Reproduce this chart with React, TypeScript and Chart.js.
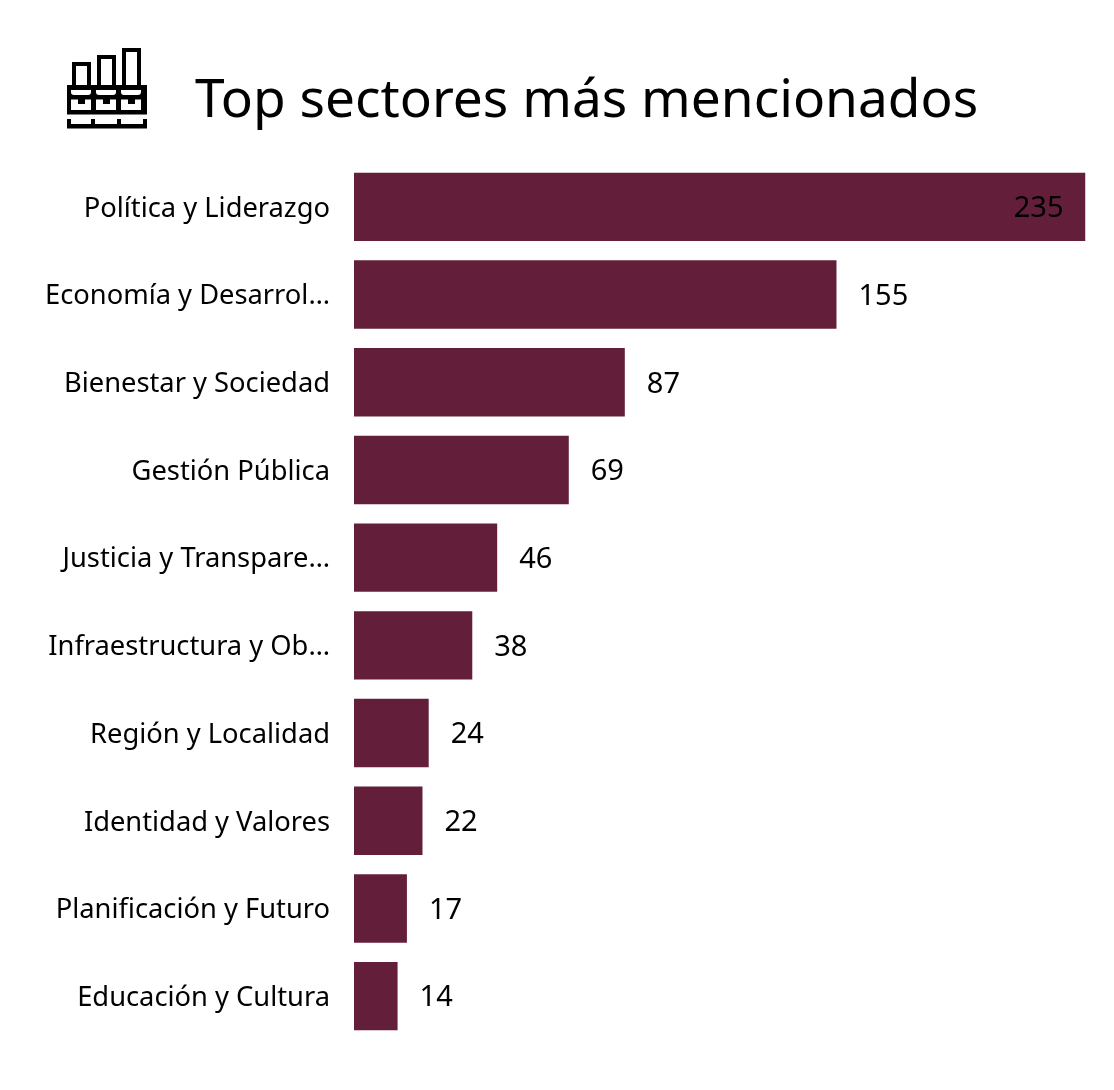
import { useEffect, useRef } from 'react';
import { Chart, registerables } from 'chart.js';

Chart.register(...registerables);

const categories = [
  'Política y Liderazgo',
  'Economía y Desarrol…',
  'Bienestar y Sociedad',
  'Gestión Pública',
  'Justicia y Transpare…',
  'Infraestructura y Ob…',
  'Región y Localidad',
  'Identidad y Valores',
  'Planificación y Futuro',
  'Educación y Cultura',
];
const mentions = [235, 155, 87, 69, 46, 38, 24, 22, 17, 14];

const FONT = '"Noto Sans", sans-serif';

// value labels: outside the bar, except when it would not fit
const valueLabels = {
  id: 'valueLabels',
  afterDatasetsDraw(chart: Chart) {
    const { ctx, chartArea } = chart;
    const bars = chart.getDatasetMeta(0).data;
    ctx.save();
    ctx.font = `29px ${FONT}`;
    ctx.fillStyle = '#000000';
    ctx.textBaseline = 'middle';
    bars.forEach((bar, i) => {
      const inside = bar.x + 100 > chartArea.right + 28;
      ctx.textAlign = inside ? 'right' : 'left';
      ctx.fillText(String(mentions[i]), inside ? bar.x - 22 : bar.x + 22, bar.y + 2);
    });
    ctx.restore();
  },
};

export default function App() {
  const chartRef = useRef<HTMLCanvasElement>(null);

  useEffect(() => {
    if (!chartRef.current) return;
    document.body.style.margin = '0';

    const chart = new Chart(chartRef.current, {
      type: 'bar',
      data: {
        labels: categories,
        datasets: [
          {
            data: mentions,
            backgroundColor: '#631f3a',
            barPercentage: 0.78,
            categoryPercentage: 1,
          },
        ],
      },
      options: {
        indexAxis: 'y',
        responsive: false,
        animation: false,
        layout: { padding: { top: 163, bottom: 50, right: 28.5 } },
        plugins: {
          legend: { display: false },
          tooltip: { enabled: false },
        },
        scales: {
          x: { display: false, min: 0, max: 235 },
          y: {
            afterFit(scale) {
              scale.width = 354;
            },
            grid: { display: false },
            border: { display: false },
            ticks: {
              color: '#000000',
              padding: 16,
              labelOffset: 2,
              font: { family: FONT, size: 27.3 },
              autoSkip: false,
            },
          },
        },
      },
      plugins: [valueLabels],
    });

    return () => {
      chart.destroy();
    };
  }, []);

  return (
    <div style={{ position: 'relative', width: 1114, height: 1090, background: '#fff' }}>
      <svg
        width="84"
        height="84"
        viewBox="65 47 84 84"
        style={{ position: 'absolute', left: 65, top: 47 }}
      >
        <g fill="none" stroke="#000" strokeWidth="4">
          <rect x="74" y="64" width="15" height="23" />
          <rect x="99" y="57" width="15" height="30" />
          <rect x="124" y="50" width="15" height="37" />
        </g>
        <rect x="67" y="85" width="80" height="29.5" fill="#000" />
        <g fill="#fff">
          <path d="M71 90H91V92Q91 95 88 95H74Q71 95 71 92Z" />
          <path d="M96 90H116V92Q116 95 113 95H99Q96 95 96 92Z" />
          <path d="M121 90H141V92Q141 95 138 95H124Q121 95 121 92Z" />
          <path d="M71 99.5H78V104H85V99.5H91V110H71Z" />
          <path d="M96 99.5H103V104H110V99.5H116V110H96Z" />
          <path d="M121 99.5H128V104H135V99.5H141V110H121Z" />
        </g>
        <path d="M67 119H71V124H91V119H95V124H117V119H121V124H143V119H147V128.5H67Z" fill="#000" />
      </svg>
      <div
        style={{
          position: 'absolute',
          left: 195,
          top: 59,
          fontFamily: FONT,
          fontSize: 53.2,
          lineHeight: '76px',
          color: '#000',
          whiteSpace: 'nowrap',
        }}
      >
        Top sectores más mencionados
      </div>
      <canvas ref={chartRef} width={1114} height={1090} style={{ display: 'block' }} />
    </div>
  );
}
